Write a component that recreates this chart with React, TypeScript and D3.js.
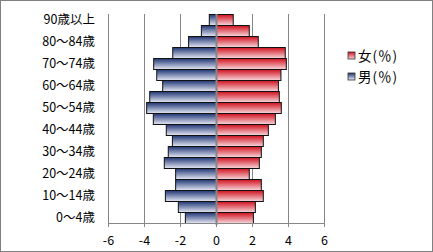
import React from "react";
import * as d3 from "d3";

const categories = [
  "0～4歳", "5～9歳", "10～14歳", "15～19歳", "20～24歳", "25～29歳", "30～34歳",
  "35～39歳", "40～44歳", "45～49歳", "50～54歳", "55～59歳", "60～64歳",
  "65～69歳", "70～74歳", "75～79歳", "80～84歳", "85～89歳", "90歳以上",
];
const male = [-1.73, -2.12, -2.84, -2.27, -2.27, -2.9, -2.68, -2.45, -2.79, -3.51, -3.88, -3.71, -2.99, -3.32, -3.49, -2.43, -1.55, -0.84, -0.4];
const female = [2.05, 2.16, 2.6, 2.49, 1.82, 2.38, 2.49, 2.6, 2.88, 3.27, 3.6, 3.49, 3.44, 3.58, 3.88, 3.82, 2.32, 1.82, 0.93];
const xTicks = [-6, -4, -2, 0, 2, 4, 6];
const seriesNames = ["女(％)", "男(％)"];

const W = 433, H = 252;
const font = "'Noto Sans CJK JP', 'Noto Sans', sans-serif";

export default function App() {
  const x = d3.scaleLinear().domain([-6, 6]).range([108.5, 324.5]);
  const y = d3.scaleBand<string>().domain([...categories].reverse()).range([14, 223]).padding(0);
  const bw = y.bandwidth();
  return (
    <svg width={W} height={H} style={{ position: "fixed", left: 0, top: 0 }} fontFamily={font}>
      <defs>
        <linearGradient id="gM" x1="0" y1="0" x2="0" y2="1">
          <stop offset="0" stopColor="#1f3573" />
          <stop offset="1" stopColor="#e6e9f5" />
        </linearGradient>
        <linearGradient id="gF" x1="0" y1="0" x2="0" y2="1">
          <stop offset="0" stopColor="#d0101e" />
          <stop offset="1" stopColor="#f8d8dc" />
        </linearGradient>
      </defs>
      <rect x={0.5} y={0.5} width={W - 1} height={H - 1} fill="#fff" stroke="#808080" />
      {xTicks.filter((t) => t !== 0).map((t) => (
        <line key={t} x1={x(t)} x2={x(t)} y1={14} y2={223} stroke="#868686" strokeWidth={1} />
      ))}
      {categories.map((c, i) => (
        <g key={c}>
          <rect x={x(male[i])} y={y(c)! + 0.5} width={x(0) - x(male[i])} height={bw} fill="url(#gM)" stroke="#111" strokeWidth={1} />
          <rect x={x(0)} y={y(c)! + 0.5} width={x(female[i]) - x(0)} height={bw} fill="url(#gF)" stroke="#111" strokeWidth={1} />
        </g>
      ))}
      <line x1={x(0)} x2={x(0)} y1={14} y2={225} stroke="#868686" strokeWidth={2} />
      <line x1={x(-6)} x2={x(6)} y1={223.5} y2={223.5} stroke="#868686" strokeWidth={1} />
      {xTicks.map((t) => (
        <g key={t}>
          <line x1={x(t)} x2={x(t)} y1={223} y2={227} stroke="#868686" />
          <text x={x(t)} y={245} textAnchor="middle" fontSize={12.5} fill="#000">{t}</text>
        </g>
      ))}
      {categories.map((c, i) => i % 2 === 0 ? (
        <text key={c} x={95} y={y(c)! + bw / 2 + 4.5} textAnchor="end" fontSize={12.5} fill="#000">{c}</text>
      ) : null)}
      {seriesNames.map((s, i) => (
        <g key={s} transform={`translate(348, ${52 + i * 21})`}>
          <rect x={0} y={0} width={7} height={7} fill={i === 0 ? "url(#gF)" : "url(#gM)"} stroke="#333" strokeWidth={0.8} />
          <text x={10} y={8.5} fontSize={13.5} letterSpacing={1} fill="#000">{s}</text>
        </g>
      ))}
    </svg>
  );
}
